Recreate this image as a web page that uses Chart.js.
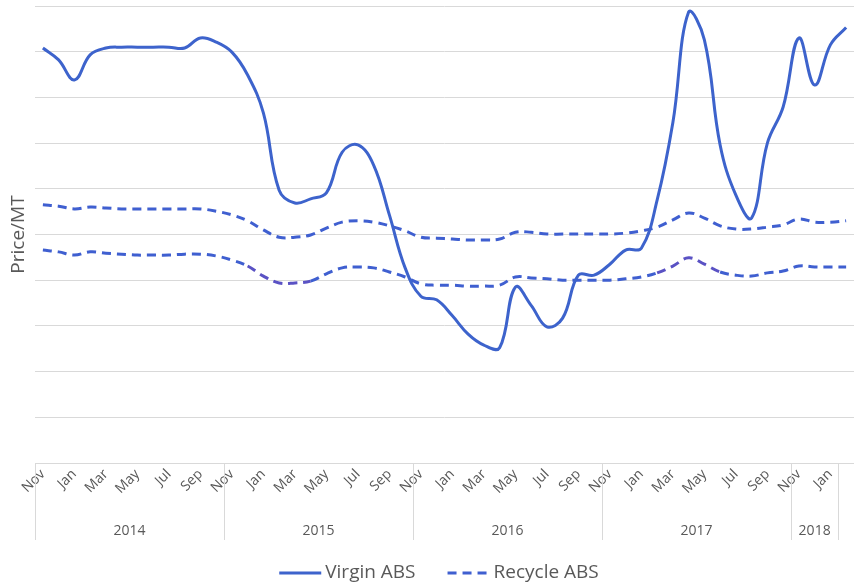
<!DOCTYPE html>
<html>
<head>
<meta charset="utf-8">
<title>Virgin vs Recycle ABS</title>
<script src="https://cdn.jsdelivr.net/npm/chart.js@4.4.1/dist/chart.umd.min.js"></script>
<style>
  html, body { margin: 0; padding: 0; background: #ffffff; }
  #wrap { width: 854px; height: 582px; }
</style>
</head>
<body>
<div id="wrap"><canvas id="chart" width="854" height="582"></canvas></div>
<script>
// Monthly categories, Nov 2014 through Feb 2018
const months = [
  'Nov','Dec','Jan','Feb','Mar','Apr','May','Jun','Jul','Aug','Sep','Oct',
  'Nov','Dec','Jan','Feb','Mar','Apr','May','Jun','Jul','Aug','Sep','Oct',
  'Nov','Dec','Jan','Feb','Mar','Apr','May','Jun','Jul','Aug','Sep','Oct',
  'Nov','Dec','Jan','Feb','Mar','Apr','May','Jun','Jul','Aug','Sep','Oct',
  'Nov','Dec','Jan','Feb'
];

// Year groups shown under the month labels and how many months each covers
const years = ['2014', '2015', '2016', '2017', '2018'];
const yearSpans = [12, 12, 12, 12, 3];

// Price index per month (relative units)
const virginABS = [
  908, 882, 838, 893, 908, 910, 910, 910, 910, 908, 930, 921,
  899, 849, 766, 597, 569, 578, 591, 680, 696, 652, 543, 427,
  365, 357, 322, 282, 258, 252, 385, 345, 298, 317, 411, 411,
  435, 466, 470, 575, 745, 987, 926, 696, 586, 536, 700, 779,
  930, 827, 915, 953
];

const recycleHigh = [
  565, 562, 556, 560, 558, 556, 556, 556, 556, 556, 556, 551,
  543, 530, 510, 494, 494, 499, 514, 527, 530, 527, 519, 508,
  494, 492, 490, 488, 488, 490, 505, 505, 501, 501, 501, 501,
  501, 503, 508, 516, 532, 547, 536, 519, 512, 512, 516, 521,
  534, 527, 527, 530
];

const recycleLow = [
  466, 462, 455, 462, 459, 457, 455, 455, 455, 457, 457, 453,
  444, 431, 409, 394, 394, 398, 414, 427, 429, 427, 418, 407,
  392, 389, 389, 387, 387, 389, 407, 405, 403, 400, 400, 400,
  400, 403, 407, 416, 431, 449, 435, 418, 411, 409, 416, 420,
  431, 429, 429, 429
];

// Series named in the legend (the low recycle band shares the dashed entry)
const legendSeries = [0, 1];

const TEXT = '#595959';
const GRID = '#d9d9d9';
const BLUE = '#3d63cc';
const DASH_BLUE = '#3f5fd0';
const DASH_PURPLE = '#5a52c4';
const FONT = "'Open Sans', 'Liberation Sans', sans-serif";

// Draws the year row under the month labels, with dividers between the years
const yearRow = {
  id: 'yearRow',
  afterDraw(chart) {
    const x = chart.scales.x;
    const ctx = chart.ctx;
    const top = x.top;
    const edges = [0];
    yearSpans.forEach(n => edges.push(edges[edges.length - 1] + n));
    ctx.save();
    ctx.strokeStyle = GRID;
    ctx.lineWidth = 1;
    edges.forEach(k => {
      const px = Math.round(x.getPixelForValue(k - 0.5)) + 0.5;
      ctx.beginPath();
      ctx.moveTo(px, top);
      ctx.lineTo(px, top + 77);
      ctx.stroke();
    });
    ctx.fillStyle = TEXT;
    ctx.font = '14px ' + FONT;
    ctx.textAlign = 'center';
    ctx.textBaseline = 'middle';
    years.forEach((yr, i) => {
      const a = x.getPixelForValue(edges[i] - 0.5);
      const b = x.getPixelForValue(edges[i + 1] - 0.5);
      ctx.fillText(yr, (a + b) / 2, top + 68);
    });
    ctx.restore();
  }
};

// Legend row along the bottom edge, using each dataset's own line style
const lineLegend = {
  id: 'lineLegend',
  afterDraw(chart) {
    const ctx = chart.ctx;
    const sample = 42, gapText = 4, gapItem = 32;
    const y = 573;
    ctx.save();
    ctx.font = '19px ' + FONT;
    const items = legendSeries.map(i => {
      const ds = chart.data.datasets[i];
      return { ds, w: ctx.measureText(ds.label).width };
    });
    const total = items.reduce((s, it) => s + sample + gapText + it.w, 0) + gapItem * (items.length - 1);
    let x = 439 - total / 2;
    items.forEach(it => {
      ctx.strokeStyle = it.ds.borderColor;
      ctx.lineWidth = it.ds.borderWidth;
      ctx.setLineDash(it.ds.borderDash || []);
      ctx.beginPath();
      ctx.moveTo(x, y);
      ctx.lineTo(x + sample, y);
      ctx.stroke();
      ctx.setLineDash([]);
      ctx.fillStyle = TEXT;
      ctx.textAlign = 'left';
      ctx.textBaseline = 'middle';
      ctx.fillText(it.ds.label, x + sample + gapText, y);
      x += sample + gapText + it.w + gapItem;
    });
    ctx.restore();
  }
};

// The lower recycle line takes a violet tint around its two humps
const lowTint = ctx => {
  const i = ctx.p0DataIndex;
  return (i >= 13 && i <= 16) || (i >= 39 && i <= 42) ? DASH_PURPLE : DASH_BLUE;
};

new Chart(document.getElementById('chart'), {
  type: 'line',
  data: {
    labels: months,
    datasets: [
      {
        label: 'Virgin ABS',
        data: virginABS,
        borderColor: BLUE,
        backgroundColor: BLUE,
        borderWidth: 3,
        pointRadius: 0,
        tension: 0.4
      },
      {
        label: 'Recycle ABS',
        data: recycleHigh,
        borderColor: DASH_BLUE,
        backgroundColor: DASH_BLUE,
        borderWidth: 3,
        borderDash: [9, 6],
        pointRadius: 0,
        tension: 0.4
      },
      {
        label: 'Recycle ABS low',
        data: recycleLow,
        borderColor: DASH_BLUE,
        backgroundColor: DASH_BLUE,
        borderWidth: 3,
        borderDash: [9, 6],
        pointRadius: 0,
        tension: 0.4,
        segment: { borderColor: lowTint }
      }
    ]
  },
  options: {
    responsive: false,
    animation: false,
    layout: { padding: { top: 6, left: 0, right: 0, bottom: 52 } },
    plugins: {
      tooltip: { enabled: false },
      legend: { display: false }
    },
    scales: {
      x: {
        offset: true,
        grid: { display: false, drawTicks: false },
        border: { display: true, color: GRID, width: 1 },
        ticks: {
          autoSkip: false,
          minRotation: 45,
          maxRotation: 45,
          padding: 3,
          color: TEXT,
          font: { family: FONT, size: 14 },
          callback: (v, i) => (i % 2 === 0 ? months[i] : '')
        },
        afterFit(scale) {
          scale.height = 67;
          scale.paddingLeft = 0;
          scale.paddingRight = 0;
        }
      },
      y: {
        min: 0,
        max: 1000,
        ticks: { display: false, stepSize: 100 },
        grid: { color: GRID, lineWidth: 1, drawTicks: false },
        border: { display: false },
        title: {
          display: true,
          text: 'Price/MT',
          color: TEXT,
          font: { family: FONT, size: 19 },
          padding: { top: 7, bottom: 0 }
        },
        afterFit(scale) { scale.width = 35; }
      }
    }
  },
  plugins: [yearRow, lineLegend]
});
</script>
</body>
</html>
